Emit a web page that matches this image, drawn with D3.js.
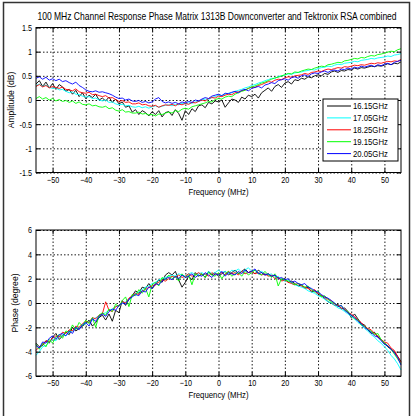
<!DOCTYPE html>
<html>
<head>
<meta charset="utf-8">
<script src="https://cdn.jsdelivr.net/npm/d3@7"></script>
<style>
    body { margin: 0; background: #fff; }
    svg { display: block; }
    text { font-family: "Liberation Sans Narrow", "Arial Narrow", "Liberation Sans", Arial, sans-serif; fill: #000; }
</style>
</head>
<body>
<svg id="chart" width="412" height="416"></svg>
<script>
// sample frequencies (MHz), one point per MHz
const freqMHz = d3.range(-55, 56);

const seriesNames = ['16.15GHz', '17.05GHz', '18.25GHz', '19.15GHz', '20.05GHz'];
const seriesColors = ['#000000', '#00ffff', '#ff0000', '#00ff00', '#0000ff'];

// amplitude (dB)
const amp1615 = [0.33,0.40,0.28,0.37,0.25,0.34,0.22,0.32,0.27,0.18, 0.22,0.12,0.20,0.07,0.15,0.03,0.10,0.05,0.12,0.00,
    0.04,-0.02,0.06,-0.05,0.02,-0.08,-0.04,-0.15,-0.12,-0.25, -0.20,-0.30,-0.22,-0.26,-0.33,-0.24,-0.30,-0.22,-0.35,-0.26,
    -0.24,-0.32,-0.20,-0.28,-0.42,-0.22,-0.30,-0.18,-0.24,-0.12, -0.10,-0.16,-0.05,-0.08,-0.02,-0.04,0.00,-0.15,-0.06,0.02,
    0.00,-0.05,0.06,0.02,0.10,0.07,0.12,0.04,0.15,0.20, 0.25,0.18,0.28,0.32,0.26,0.35,0.38,0.33,0.42,0.40,
    0.45,0.43,0.48,0.46,0.50,0.52,0.50,0.55,0.53,0.58, 0.60,0.57,0.61,0.60,0.63,0.62,0.66,0.64,0.67,0.66,
    0.68,0.70,0.69,0.71,0.70,0.72,0.75,0.73,0.76,0.75, 0.79];
const amp1705 = [0.30,0.33,0.28,0.31,0.26,0.24,0.25,0.21,0.22,0.18, 0.15,0.17,0.12,0.11,0.08,0.06,0.07,0.03,0.04,0.00,
    -0.02,0.00,-0.05,-0.04,-0.08,-0.10,-0.09,-0.12,-0.11,-0.14, -0.15,-0.13,-0.16,-0.14,-0.17,-0.14,-0.12,-0.15,-0.13,-0.11,
    -0.10,-0.12,-0.09,-0.10,-0.07,-0.08,-0.06,-0.07,-0.04,-0.03, 0.00,0.02,0.01,0.05,0.07,0.10,0.09,0.12,0.14,0.15,
    0.18,0.20,0.22,0.25,0.27,0.30,0.32,0.35,0.37,0.40, 0.42,0.45,0.44,0.49,0.50,0.52,0.54,0.53,0.56,0.57,
    0.58,0.60,0.61,0.63,0.62,0.65,0.67,0.68,0.70,0.69, 0.72,0.74,0.73,0.76,0.77,0.78,0.80,0.79,0.82,0.83,
    0.84,0.86,0.85,0.87,0.88,0.89,0.91,0.90,0.93,0.94, 0.96];
const amp1825 = [0.28,0.32,0.27,0.30,0.25,0.28,0.26,0.24,0.27,0.22, 0.21,0.19,0.23,0.17,0.15,0.14,0.16,0.11,0.12,0.09,
    0.07,0.09,0.04,0.05,0.01,-0.03,-0.01,-0.05,-0.04,-0.08, -0.08,-0.06,-0.10,-0.09,-0.12,-0.13,-0.11,-0.15,-0.12,-0.10,
    -0.11,-0.09,-0.12,-0.08,-0.10,-0.07,-0.09,-0.05,-0.06,-0.03, 0.00,-0.02,0.03,0.05,0.04,0.08,0.07,0.10,0.12,0.11,
    0.15,0.17,0.19,0.21,0.24,0.27,0.26,0.30,0.32,0.35, 0.38,0.37,0.41,0.43,0.42,0.46,0.48,0.47,0.50,0.51,
    0.52,0.55,0.53,0.57,0.58,0.60,0.59,0.62,0.64,0.63, 0.65,0.67,0.66,0.69,0.68,0.70,0.72,0.71,0.73,0.72,
    0.74,0.76,0.75,0.77,0.76,0.78,0.80,0.79,0.81,0.80, 0.84];
const amp1915 = [0.03,0.07,0.02,0.05,0.00,0.03,-0.02,0.01,-0.03,-0.01, -0.05,-0.02,-0.07,-0.04,-0.09,-0.10,-0.08,-0.12,-0.11,-0.14,
    -0.15,-0.13,-0.18,-0.16,-0.21,-0.23,-0.20,-0.25,-0.24,-0.27, -0.27,-0.25,-0.29,-0.28,-0.31,-0.30,-0.33,-0.29,-0.30,-0.27,
    -0.25,-0.27,-0.22,-0.24,-0.19,-0.17,-0.19,-0.14,-0.12,-0.10, -0.08,-0.06,-0.03,-0.04,0.01,0.03,0.02,0.06,0.08,0.07,
    0.12,0.15,0.18,0.20,0.24,0.27,0.29,0.32,0.35,0.37, 0.40,0.43,0.46,0.47,0.50,0.52,0.55,0.54,0.58,0.57,
    0.60,0.62,0.64,0.63,0.66,0.68,0.70,0.69,0.73,0.74, 0.76,0.78,0.77,0.81,0.82,0.84,0.86,0.85,0.88,0.87,
    0.90,0.92,0.91,0.94,0.95,0.97,0.99,1.01,1.00,1.04, 1.06];
const amp2005 = [0.45,0.48,0.43,0.47,0.41,0.44,0.40,0.43,0.38,0.40, 0.36,0.33,0.37,0.30,0.26,0.21,0.18,0.17,0.19,0.16,
    0.17,0.15,0.13,0.10,0.06,0.03,0.04,0.00,0.02,-0.02, -0.03,-0.01,-0.05,-0.03,-0.06,-0.04,0.02,0.05,-0.03,-0.06,
    -0.04,-0.07,-0.05,-0.08,-0.04,-0.06,-0.03,-0.05,0.00,-0.02, 0.02,0.05,0.03,0.08,0.10,0.12,0.09,0.14,0.13,0.16,
    0.18,0.15,0.20,0.22,0.19,0.24,0.26,0.28,0.25,0.31, 0.33,0.36,0.34,0.40,0.42,0.44,0.41,0.46,0.48,0.45,
    0.50,0.52,0.49,0.54,0.56,0.55,0.58,0.60,0.57,0.61, 0.62,0.60,0.64,0.63,0.66,0.64,0.68,0.66,0.70,0.68,
    0.70,0.72,0.69,0.73,0.71,0.74,0.76,0.73,0.78,0.80, 0.82];

// phase (degree)
const ph1615 = [-3.3,-3.6,-3.5,-3.1,-3.3,-2.8,-2.5,-3.0,-2.7,-2.4, -2.6,-2.0,-2.3,-2.1,-1.9,-1.7,-1.4,-1.9,-1.6,-1.2,
    -1.0,-1.4,-0.9,-1.5,-0.6,-0.8,0.2,-0.2,0.3,0.6, 1.0,0.8,1.3,1.2,1.6,1.2,1.5,1.9,1.7,2.3,
    2.5,2.3,2.6,1.9,1.3,1.7,2.2,1.9,2.5,2.2, 2.4,2.1,2.6,2.3,2.5,2.2,2.4,2.6,2.3,2.5,
    2.7,2.4,2.6,2.8,2.5,2.6,2.4,2.7,2.5,2.3, 2.4,2.2,2.3,2.1,1.9,2.0,1.7,1.8,1.6,1.4,
    1.5,1.2,1.3,0.9,1.0,0.7,0.6,0.4,0.1,0.0, -0.2,-0.1,-0.5,-0.4,-0.7,-1.2,-0.9,-1.3,-1.7,-1.8,
    -2.2,-2.5,-2.4,-2.8,-3.0,-3.3,-3.6,-3.8,-4.0,-4.4, -4.8];
const ph1705 = [-4.3,-4.0,-3.6,-3.5,-3.2,-3.0,-3.1,-2.8,-2.6,-2.7, -2.4,-2.3,-2.1,-2.0,-1.8,-1.7,-1.5,-1.4,-1.2,-1.1,
    -0.9,-0.8,-0.6,-0.5,-0.3,-0.2,0.0,0.1,0.3,0.5, 0.8,0.9,1.1,1.3,1.4,1.6,1.7,1.9,2.0,2.1,
    2.2,2.3,2.2,2.4,2.3,2.2,2.4,2.5,2.3,2.4, 2.5,2.3,2.6,2.4,2.5,2.7,2.5,2.6,2.4,2.7,
    2.6,2.8,2.5,2.7,2.9,2.6,2.7,2.5,2.6,2.4, 2.3,2.4,2.1,2.2,1.9,1.8,1.9,1.6,1.5,1.4,
    1.3,1.2,1.0,0.9,0.8,0.6,0.5,0.3,0.1,0.0, -0.2,-0.4,-0.5,-0.7,-0.9,-1.1,-1.3,-1.6,-1.8,-2.1,
    -2.3,-2.6,-2.8,-3.1,-3.3,-3.6,-3.9,-4.3,-4.6,-5.0, -5.5];
const ph1825 = [-3.9,-3.6,-3.4,-3.1,-3.2,-2.9,-2.7,-2.8,-2.4,-2.5, -2.2,-2.3,-1.9,-2.0,-1.7,-1.5,-1.6,-1.2,-1.3,-1.0,
    -0.9,0.1,-0.6,-0.7,-0.3,-0.2,0.1,0.0,0.4,0.6, 0.8,0.7,1.0,1.1,1.3,1.4,1.5,1.7,1.9,1.8,
    2.0,2.2,2.1,2.3,2.1,2.2,2.4,2.2,2.3,2.5, 2.3,2.4,2.2,2.5,2.3,2.4,2.5,2.3,2.6,2.4,
    2.5,2.3,2.6,2.4,2.5,2.6,2.4,2.5,2.3,2.4, 2.2,2.3,2.0,2.1,1.8,1.9,1.7,1.6,1.5,1.6,
    1.4,1.3,1.2,1.0,1.1,0.8,0.6,0.5,0.3,0.2, -0.1,-0.2,-0.4,-0.5,-0.8,-0.9,-1.1,-1.4,-1.6,-1.9,
    -2.1,-2.2,-2.5,-2.7,-3.0,-3.2,-3.3,-3.7,-3.9,-4.4, -4.9];
const ph1915 = [-3.4,-3.8,-3.3,-3.6,-3.0,-3.3,-2.8,-2.6,-2.9,-2.3, -2.4,-1.8,-2.2,-1.6,-1.9,-1.4,-1.7,-1.2,-2.0,-1.0,
    -0.8,-1.0,-0.5,-0.7,-0.1,-0.3,0.2,0.5,-0.3,0.7, 0.6,1.1,0.8,1.2,0.5,1.5,1.7,1.4,2.1,1.9,
    2.3,2.0,2.2,1.8,2.4,2.1,2.3,1.5,2.4,2.2, 2.4,2.1,2.5,2.3,2.2,2.5,2.0,2.4,2.6,2.2,
    2.4,2.5,2.2,2.6,2.3,2.5,2.7,2.4,2.3,2.6, 2.3,2.1,2.4,1.4,2.0,1.9,1.8,1.7,1.5,1.6,
    1.5,1.3,1.4,1.1,0.9,1.0,0.5,0.6,0.3,0.1, 0.0,-0.3,-0.2,-0.6,-0.7,-1.0,-1.3,-1.4,-1.8,-1.9,
    -2.2,-2.3,-2.6,-2.5,-3.0,-3.3,-3.5,-3.8,-4.2,-4.6, -5.0];
const ph2005 = [-3.5,-3.7,-3.2,-3.3,-2.9,-2.7,-3.0,-2.6,-2.5,-2.7, -2.3,-2.5,-2.0,-2.2,-1.8,-1.6,-1.9,-1.3,-1.5,-1.1,
    -0.9,-1.1,-0.7,-0.5,-0.6,-0.2,0.0,-0.1,0.3,0.5, 0.7,0.6,1.0,0.9,1.3,1.2,1.6,1.5,1.8,2.0,
    2.1,1.9,2.2,2.0,2.3,2.1,2.2,2.4,2.1,2.3, 2.2,2.5,2.3,2.1,2.4,2.3,2.6,2.2,2.5,2.4,
    2.3,2.6,2.4,2.7,2.5,2.6,2.8,2.4,2.5,2.3, 2.4,2.2,2.3,2.0,2.1,1.9,2.0,1.7,1.8,1.6,
    1.5,1.6,1.3,1.2,1.0,0.9,0.7,0.5,0.4,0.2, 0.0,-0.3,-0.2,-0.6,-0.8,-1.0,-1.2,-1.5,-1.7,-2.0,
    -2.2,-2.4,-2.7,-2.8,-3.1,-3.4,-3.5,-3.8,-4.1,-4.5, -5.1];

const ampSeries = [amp1615, amp1705, amp1825, amp1915, amp2005];
const phaseSeries = [ph1615, ph1705, ph1825, ph1915, ph2005];

const xTicks = [-50, -40, -30, -20, -10, 0, 10, 20, 30, 40, 50];
const ampTicks = [-1.5, -1, -0.5, 0, 0.5, 1, 1.5];
const phaseTicks = [-6, -4, -2, 0, 2, 4, 6];

const titleText = '100 MHz Channel Response Phase Matrix 1313B Downconverter and Tektronix RSA combined';

// squeeze texts horizontally, the original uses a condensed face
function narrow(sel, factor) {
    sel.each(function () {
        const len = this.getComputedTextLength();
        if (len > 0) {
            d3.select(this)
                .attr('textLength', len * factor)
                .attr('lengthAdjust', 'spacingAndGlyphs');
        }
    });
}

class ResponsePanel {
    constructor(svg, box, yDomain, yTicks, yLabel, series) {
        this.svg = svg;
        this.box = box;
        this.x = d3.scaleLinear().domain([-55, 55]).range([box.left, box.right]);
        this.y = d3.scaleLinear().domain(yDomain).range([box.bottom, box.top]);
        this.yTicks = yTicks;
        this.yLabel = yLabel;
        this.series = series;
        this.draw();
    }

    draw() {
        const { x, y, box, svg } = this;
        const w = box.right - box.left;
        const h = box.bottom - box.top;
        const g = svg.append('g');

        // white plot area
        g.append('rect')
            .attr('x', box.left).attr('y', box.top)
            .attr('width', w).attr('height', h)
            .attr('fill', '#fff');

        // dotted grid
        const gx = g.append('g')
            .attr('transform', `translate(0,${box.bottom})`)
            .call(d3.axisBottom(x).tickValues(xTicks).tickSize(-h).tickFormat(''));
        const gy = g.append('g')
            .attr('transform', `translate(${box.left},0)`)
            .call(d3.axisLeft(y).tickValues(this.yTicks).tickSize(-w).tickFormat(''));
        [gx, gy].forEach(a => {
            a.select('.domain').remove();
            a.selectAll('line').attr('stroke', '#000').attr('stroke-width', 0.9).attr('stroke-dasharray', '1.5,2');
        });

        // data lines
        const line = d3.line()
            .x((d, i) => x(freqMHz[i]))
            .y(d => y(d));
        this.series.forEach((s, k) => {
            g.append('path')
                .datum(s)
                .attr('fill', 'none')
                .attr('stroke', seriesColors[k])
                .attr('stroke-width', 0.9)
                .attr('d', line);
        });

        // inward ticks on all four sides
        const bottom = g.append('g')
            .attr('transform', `translate(0,${box.bottom})`)
            .call(d3.axisBottom(x).tickValues(xTicks).tickSizeInner(-4).tickSizeOuter(0).tickPadding(4).tickFormat(d3.format('d')));
        const top = g.append('g')
            .attr('transform', `translate(0,${box.top})`)
            .call(d3.axisTop(x).tickValues(xTicks).tickSizeInner(-4).tickSizeOuter(0).tickFormat(''));
        const left = g.append('g')
            .attr('transform', `translate(${box.left},0)`)
            .call(d3.axisLeft(y).tickValues(this.yTicks).tickSizeInner(-4).tickSizeOuter(0).tickPadding(4).tickFormat(d => String(d)));
        const right = g.append('g')
            .attr('transform', `translate(${box.right},0)`)
            .call(d3.axisRight(y).tickValues(this.yTicks).tickSizeInner(-4).tickSizeOuter(0).tickFormat(''));
        [bottom, top, left, right].forEach(a => {
            a.select('.domain').remove();
            a.selectAll('line').attr('stroke', '#000');
            a.selectAll('text').attr('font-size', 9).attr('font-family', null);
            narrow(a.selectAll('text'), 0.8);
        });

        // box around the plot
        g.append('rect')
            .attr('x', box.left).attr('y', box.top)
            .attr('width', w).attr('height', h)
            .attr('fill', 'none').attr('stroke', '#000').attr('stroke-width', 1);

        // axis titles
        const xt = g.append('text')
            .attr('x', (box.left + box.right) / 2)
            .attr('y', box.bottom + 22)
            .attr('text-anchor', 'middle')
            .attr('font-size', 9.5)
            .text('Frequency (MHz)');
        const yt = g.append('text')
            .attr('transform', `translate(${box.labelX},${(box.top + box.bottom) / 2}) rotate(-90)`)
            .attr('text-anchor', 'middle')
            .attr('font-size', 9.5)
            .text(this.yLabel);
        narrow(xt, 0.82);
        narrow(yt, 0.9);
    }

    legend(lx, ly) {
        const g = this.svg.append('g');
        g.append('rect')
            .attr('x', lx).attr('y', ly)
            .attr('width', 75).attr('height', 62)
            .attr('fill', '#fff').attr('stroke', '#000').attr('stroke-width', 1);
        const rows = g.selectAll('.entry')
            .data(seriesNames)
            .join('g')
            .attr('class', 'entry')
            .attr('transform', (d, i) => `translate(${lx},${ly + 7 + i * 11.9})`);
        rows.append('line')
            .attr('x1', 4).attr('x2', 28)
            .attr('stroke', (d, i) => seriesColors[i])
            .attr('stroke-width', 1);
        const labels = rows.append('text')
            .attr('x', 30).attr('dy', '0.35em')
            .attr('font-size', 9)
            .text(d => d);
        narrow(labels, 0.86);
    }
}

const svg = d3.select('#chart');

// outer figure frame
svg.append('rect')
    .attr('x', 3.5).attr('y', 2.5)
    .attr('width', 406).attr('height', 430)
    .attr('fill', 'none').attr('stroke', '#333').attr('stroke-width', 1.5);

// title, scaled horizontally so it spans the plot width like the original
const title = svg.append('text')
    .attr('text-anchor', 'middle')
    .attr('font-size', 10.5)
    .text(titleText);
const titleScale = 360 / title.node().getComputedTextLength();
title.attr('transform', `translate(217,20) scale(${titleScale},1)`);

const ampPanel = new ResponsePanel(svg,
    { left: 36, right: 401, top: 27.5, bottom: 172.5, labelX: 14 },
    [-1.5, 1.5], ampTicks, 'Amplitude (dB)', ampSeries);
ampPanel.legend(323, 99);

new ResponsePanel(svg,
    { left: 36, right: 401, top: 230, bottom: 376, labelX: 18 },
    [-6, 6], phaseTicks, 'Phase (degree)', phaseSeries);
</script>
</body>
</html>
